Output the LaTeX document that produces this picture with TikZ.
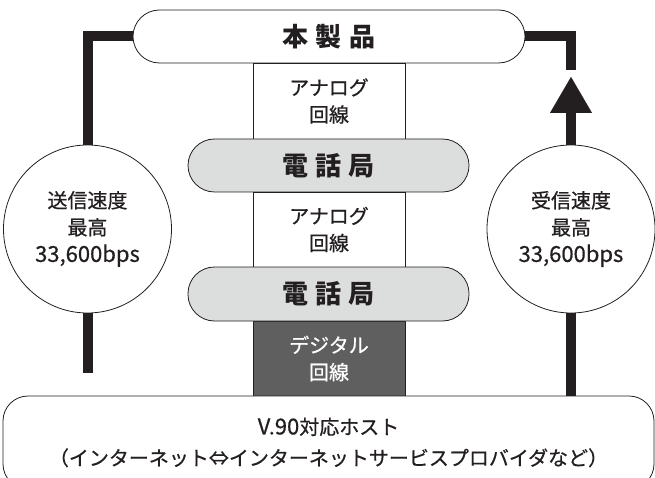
\documentclass[tikz,border=0pt]{standalone}
\usepackage{fontspec}
\setmainfont{Noto Sans CJK JP}
\newfontfamily\medfont{Noto Sans CJK JP}[FakeBold=0.6]
\usetikzlibrary{arrows.meta}
\definecolor{ink}{HTML}{231F20}
\definecolor{office}{HTML}{DCDDDD}
\definecolor{digital}{HTML}{5F5F60}
\newcommand{\latinbig}[1]{{\fontsize{22}{27}\selectfont #1}}
\begin{document}
\begin{tikzpicture}[x=1pt,y=-1pt,
  box/.style={draw=ink, line width=0.8pt, inner sep=0pt, align=center, text=ink},
  line/.style={box, minimum width=152pt, fill=white, font=\medfont\fontsize{20}{27}\selectfont},
  pill/.style={box, rounded corners=26.5pt, font=\bfseries\fontsize{26}{26}\selectfont},
  speed/.style={box, circle, minimum size=168pt, fill=white, font=\medfont\fontsize{20}{27}\selectfont},
  conn/.style={draw=ink, line width=10pt, line join=miter, line cap=butt}
]
\useasboundingbox (0,0) rectangle (655,478);

\node[line, minimum height=76pt] (an1) at (329,101) {アナログ\\回線};
\node[line, minimum height=75pt] (an2) at (329,229.5) {アナログ\\回線};
\node[line, minimum height=75pt, fill=digital, text=white] (dig) at (329,358.5) {デジタル\\回線};

\node[pill, minimum width=392pt, minimum height=53pt, fill=white] (prod) at (329,36.5) {本\hspace{7.5pt}製\hspace{7.5pt}品};
\node[pill, minimum width=281pt, minimum height=53pt, fill=office] (off1) at (328.5,165.5) {電\hspace{7.5pt}話\hspace{7.5pt}局};
\node[pill, minimum width=281pt, minimum height=54pt, fill=office] (off2) at (328.5,294) {電\hspace{7.5pt}話\hspace{7.5pt}局};

\node[box, rounded corners=25pt, minimum width=651pt, minimum height=93pt, fill=white,
      font=\medfont\fontsize{20}{31}\selectfont] (host) at (328.5,442.5)
  {\latinbig{V.90}対応ホスト\\（インターネット⇔インターネットサービスプロバイダなど）};

\node[speed] (lc) at (87.5,229) {送信速度\\最高\\\latinbig{33,600bps}};
\node[speed] (rc) at (571,229) {受信速度\\最高\\\latinbig{33,600bps}};

\coordinate (lend) at (87.5,373);
\coordinate (rend) at (571,70);
\coordinate (rtip) at (571,77);

\draw[conn] (prod.west) -| (lc.north);
\draw[conn] (lc.south) -- (lend);
\draw[conn] (prod.east) -| (rend);
\draw[conn, -{Triangle[width=42pt,length=36pt,line width=0.01pt]}] (rc.north) -- (rtip);
\draw[conn] (rc.south) -- (rc.south |- host.north);
\end{tikzpicture}
\end{document}
